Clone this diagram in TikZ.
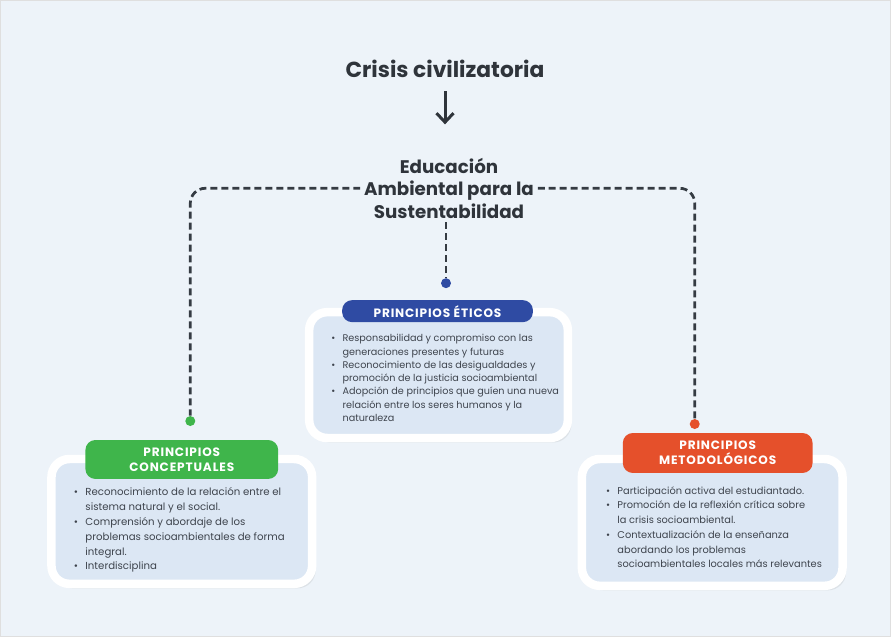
\documentclass[tikz,border=0pt]{standalone}
\usepackage{fontspec}
\setmainfont{Poppins}
\newfontfamily\pillfont[LetterSpace=7]{Poppins}
\usetikzlibrary{arrows.meta,shadows}
\definecolor{fondo}{HTML}{EDF3F9}
\definecolor{tarjeta}{HTML}{DCE7F4}
\definecolor{tinta}{HTML}{2F343B}
\definecolor{texto}{HTML}{3E444D}
\definecolor{linea}{HTML}{353B43}
\definecolor{azul}{HTML}{2F4BA3}
\definecolor{verde}{HTML}{3FB54B}
\definecolor{naranja}{HTML}{E5502B}
\newcommand{\bl}{\makebox[1.15em][l]{\textbullet}}
\newcommand{\hg}{\hspace*{1.15em}}

\begin{document}
\begin{tikzpicture}[x=0.02cm, y=-0.02cm, >=Stealth,
    titulo/.style={font=\bfseries\fontsize{12.4}{14}\selectfont,text=tinta,inner sep=2pt},
    edu/.style={font=\bfseries\fontsize{10.4}{12.8}\selectfont,text=tinta,align=center,inner sep=2pt},
    guia/.style={draw=linea,line width=0.055cm,dash pattern=on 0.14cm off 0.08cm,rounded corners=0.3cm},
    flecha/.style={draw=tinta,line width=0.06cm,-{Straight Barb[length=1.8mm,width=3.4mm,line width=0.06cm]}},
    punto/.style={circle,inner sep=0pt,minimum size=0.2cm},
    card/.style={rectangle,rounded corners=0.36cm,draw=white,line width=0.17cm,fill=tarjeta,
        drop shadow={opacity=0.14,shadow xshift=0.07cm,shadow yshift=-0.09cm}},
    pill/.style={rectangle,rounded corners=0.2cm,text=white,align=center,inner sep=0pt,
        font=\pillfont\bfseries\fontsize{6.9}{8.6}\selectfont},
    lista/.style={align=left,text=texto,inner sep=0pt,anchor=north west}]

    \fill[fondo] (0,0) rectangle (891,637);
    \draw[gray!25,line width=0.02cm] (0,0) rectangle (891,637);
    \useasboundingbox (0,0) rectangle (891,637);

    \node[titulo] (crisis) at (445,68) {Crisis civilizatoria};
    \coordinate (puntaflecha) at (445,124);
    \draw[flecha,shorten <=0.2cm] (crisis.south) -- (puntaflecha);

    \node[edu] (eas) at (449,188) {Educación\\Ambiental para la\\Sustentabilidad};

    % tarjetas
    \node[card,minimum width=5.18cm,minimum height=2.52cm] (cartac) at (438.5,375) {};
    \node[card,minimum width=5.22cm,minimum height=2.5cm] (cartal) at (181.5,521.5) {};
    \node[card,minimum width=5.22cm,minimum height=2.54cm] (cartar) at (712.5,522.5) {};

    \node[pill,fill=azul,minimum width=3.82cm,minimum height=0.44cm] (etic) at (437.5,311) {PRINCIPIOS ÉTICOS};
    \node[pill,fill=verde,minimum width=3.86cm,minimum height=0.78cm] (conc) at (181.5,459.5) {PRINCIPIOS\\CONCEPTUALES};
    \node[pill,fill=naranja,minimum width=3.8cm,minimum height=0.8cm] (meto) at (718,453) {PRINCIPIOS\\METODOLÓGICOS};

    % conectores
    \node[punto,fill=azul] (puntoc) at (446,283) {};
    \node[punto,fill=verde] (puntol) at (190,421) {};
    \node[punto,fill=naranja] (puntor) at (695,424) {};
    \draw[guia] (eas.west) -| (puntol);
    \draw[guia] (eas.east) -| (puntor);
    \draw[guia] (eas.south -| puntoc) -- (puntoc);

    % listas
    \node[lista,font=\fontsize{5.5}{7.55}\selectfont] (lstc) at (331,334) {%
      \bl Responsabilidad y compromiso con las\\
      \hg generaciones presentes y futuras\\
      \bl Reconocimiento de las desigualdades y\\
      \hg promoción de la justicia socioambiental\\
      \bl Adopción de principios que guíen una nueva\\
      \hg relación entre los seres humanos y la\\
      \hg naturaleza};
    \node[lista,font=\fontsize{5.8}{8.5}\selectfont] (lstl) at (73,487) {%
      \bl Reconocimiento de la relación entre el\\
      \hg sistema natural y el social.\\
      \bl Comprensión y abordaje de los\\
      \hg problemas socioambientales de forma\\
      \hg integral.\\
      \bl Interdisciplina};
    \node[lista,font=\fontsize{5.6}{8.4}\selectfont] (lstr) at (606,486) {%
      \bl Participación activa del estudiantado.\\
      \bl Promoción de la reflexión crítica sobre\\
      \hg la crisis socioambiental.\\
      \bl Contextualización de la enseñanza\\
      \hg abordando los problemas\\
      \hg socioambientales locales más relevantes};
  \end{tikzpicture}
\end{document}
